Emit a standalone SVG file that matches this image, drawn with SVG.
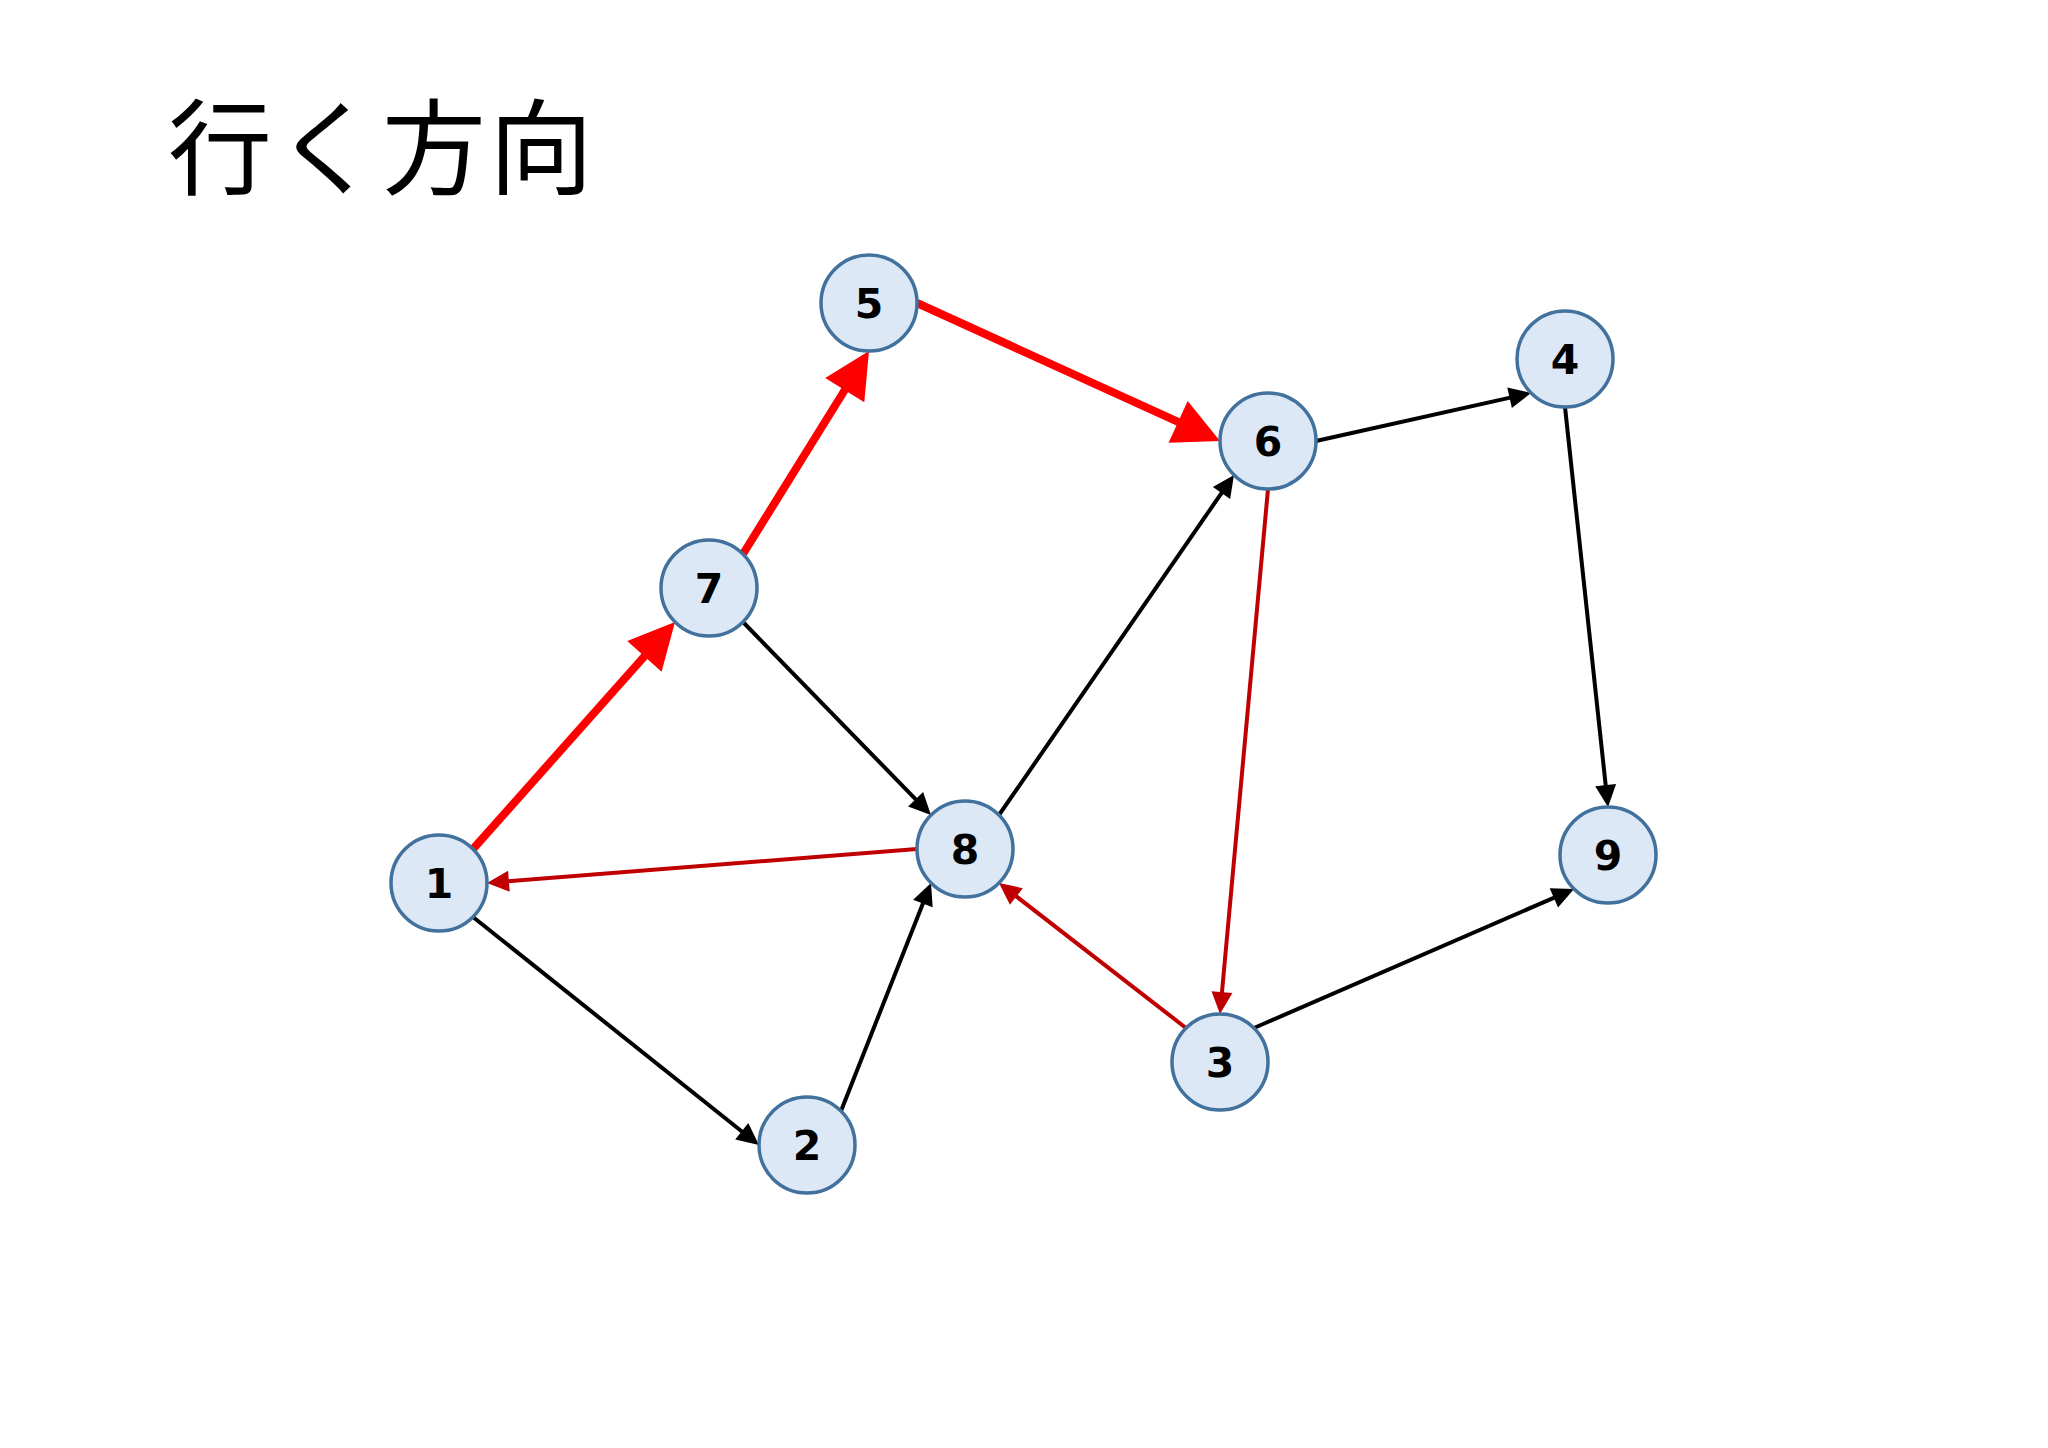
<svg xmlns="http://www.w3.org/2000/svg" width="2048" height="1448" viewBox="0 0 2048 1448">
<style>
.title{font-family:"Noto Sans CJK JP","Noto Sans CJK SC",sans-serif;font-size:104px;letter-spacing:3px;fill:#000}
.node circle{fill:#dde8f6;stroke:#41719c;stroke-width:3.5}
.node text{font-family:"DejaVu Sans",sans-serif;font-weight:bold;font-size:41px;text-anchor:middle;fill:#000}
.e{fill:none}
.red{stroke:#ff0000;stroke-width:8;marker-end:url(#mRed)}
.dred{stroke:#c00000;stroke-width:4;marker-end:url(#mDred)}
.blk{stroke:#000;stroke-width:4;marker-end:url(#mBlk)}
</style>
<defs>
<marker id="mRed" markerUnits="userSpaceOnUse" markerWidth="60" markerHeight="60" refX="6" refY="0" viewBox="0 -30 60 60" orient="auto" overflow="visible"><path d="M0,-23 L46,0 L0,23 z" fill="#ff0000"/></marker>
<marker id="mDred" markerUnits="userSpaceOnUse" markerWidth="30" markerHeight="30" refX="3" refY="0" viewBox="0 -15 30 30" orient="auto" overflow="visible"><path d="M0,-10.5 L22,0 L0,10.5 z" fill="#c00000"/></marker>
<marker id="mBlk" markerUnits="userSpaceOnUse" markerWidth="30" markerHeight="30" refX="3" refY="0" viewBox="0 -15 30 30" orient="auto" overflow="visible"><path d="M0,-10.5 L22,0 L0,10.5 z" fill="#000"/></marker>
</defs>
<rect width="2048" height="1448" fill="#fff"/>
<text class="title" x="168" y="187">行く方向</text>
<g id="connectors">
<line class="e red" x1="473" y1="849" x2="648.4" y2="651.9"/>
<line class="e red" x1="743" y1="554" x2="847.9" y2="385"/>
<line class="e red" x1="917" y1="303" x2="1183.6" y2="424.4"/>
<line class="e dred" x1="917" y1="849" x2="505.9" y2="881.5"/>
<line class="e dred" x1="1268" y1="489" x2="1221.7" y2="995.1"/>
<line class="e dred" x1="1186" y1="1028" x2="1014" y2="894.6"/>
<line class="e blk" x1="473" y1="917" x2="744.1" y2="1133.2"/>
<line class="e blk" x1="841" y1="1111" x2="924" y2="900.7"/>
<line class="e blk" x1="743" y1="622" x2="917.7" y2="801.4"/>
<line class="e blk" x1="999" y1="815" x2="1223.2" y2="490.6"/>
<line class="e blk" x1="1316" y1="441" x2="1512.5" y2="397.1"/>
<line class="e blk" x1="1565" y1="407" x2="1606" y2="788.1"/>
<line class="e blk" x1="1254" y1="1028" x2="1556.6" y2="896.6"/>
</g>
<g id="node1" class="node"><circle cx="439" cy="883" r="48"/><text x="439" y="898">1</text></g>
<g id="node2" class="node"><circle cx="807" cy="1145" r="48"/><text x="807" y="1160">2</text></g>
<g id="node3" class="node"><circle cx="1220" cy="1062" r="48"/><text x="1220" y="1077">3</text></g>
<g id="node4" class="node"><circle cx="1565" cy="359" r="48"/><text x="1565" y="374">4</text></g>
<g id="node5" class="node"><circle cx="869" cy="303" r="48"/><text x="869" y="318">5</text></g>
<g id="node6" class="node"><circle cx="1268" cy="441" r="48"/><text x="1268" y="456">6</text></g>
<g id="node7" class="node"><circle cx="709" cy="588" r="48"/><text x="709" y="603">7</text></g>
<g id="node8" class="node"><circle cx="965" cy="849" r="48"/><text x="965" y="864">8</text></g>
<g id="node9" class="node"><circle cx="1608" cy="855" r="48"/><text x="1608" y="870">9</text></g>
</svg>
